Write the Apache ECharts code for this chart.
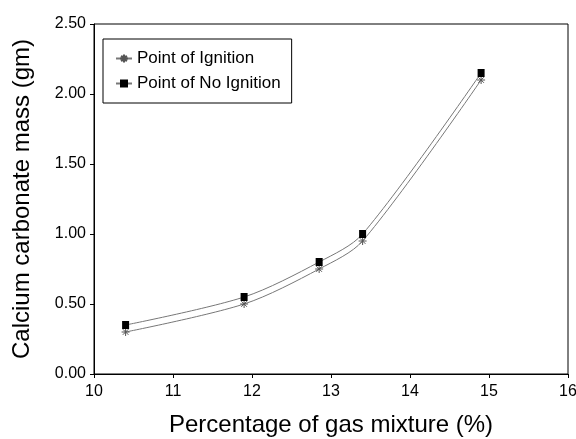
<!DOCTYPE html>
<html><head><meta charset="utf-8">
<script src="https://cdn.jsdelivr.net/npm/echarts@6/dist/echarts.min.js"></script>
<style>html,body{margin:0;padding:0;background:#fff}#c{width:576px;height:439px}</style>
</head><body><div id="c"></div>
<script>
const xIgnition = [10.4, 11.9, 12.85, 13.4, 14.9];
const yIgnition = [0.30, 0.50, 0.75, 0.95, 2.10];
const xNoIgnition = [10.4, 11.9, 12.85, 13.4, 14.9];
const yNoIgnition = [0.35, 0.55, 0.80, 1.00, 2.15];
const seriesNames = ['Point of Ignition', 'Point of No Ignition'];
const xTitle = 'Percentage of gas mixture (%)';
const yTitle = 'Calcium carbonate mass (gm)';

const star = 'path://M5,0L5,10M0,5L10,5M1.5,1.5L8.5,8.5M8.5,1.5L1.5,8.5';
const font = 'Liberation Sans, Arial, sans-serif';
const chart = echarts.init(document.getElementById('c'));
chart.setOption({
  animation: false,
  grid: {left: 94, right: 8, top: 24, bottom: 65, show: true, containLabel: false,
         outerBoundsMode: 'none',
         borderColor: '#000', borderWidth: 1, backgroundColor: 'transparent'},
  legend: {
    left: 103, top: 39, orient: 'vertical',
    borderColor: '#000', borderWidth: 1, borderRadius: 0,
    padding: [11, 11, 11, 12], itemGap: 8, itemWidth: 16, itemHeight: 10,
    textStyle: {fontFamily: font, fontSize: 17, color: '#000'},
    data: seriesNames
  },
  xAxis: {
    type: 'value', min: 10, max: 16, interval: 1,
    name: xTitle, nameLocation: 'middle', nameGap: 39,
    nameTextStyle: {fontFamily: font, fontSize: 24, color: '#000'},
    axisLine: {lineStyle: {color: '#000', width: 1}},
    axisTick: {show: true, length: 4, lineStyle: {color: '#000'}},
    axisLabel: {fontFamily: font, fontSize: 16, color: '#000', margin: 10},
    splitLine: {show: false}
  },
  yAxis: {
    type: 'value', min: 0, max: 2.5, interval: 0.5,
    name: yTitle, nameLocation: 'middle', nameGap: 60, nameRotate: 90,
    nameTextStyle: {fontFamily: font, fontSize: 24, color: '#000'},
    axisLine: {show: true, lineStyle: {color: '#000', width: 1}},
    axisTick: {show: true, length: 4, lineStyle: {color: '#000'}},
    axisLabel: {fontFamily: font, fontSize: 16, color: '#000', margin: 8,
      formatter: v => v.toFixed(2)},
    splitLine: {show: false}
  },
  series: [
    {
      name: seriesNames[0], type: 'line', smooth: 0.3,
      data: xIgnition.map((x, i) => [x, yIgnition[i]]),
      symbol: star, symbolSize: 8,
      itemStyle: {color: 'rgba(0,0,0,0)', borderColor: '#555', borderWidth: 1},
      lineStyle: {color: '#777', width: 1}
    },
    {
      name: seriesNames[1], type: 'line', smooth: 0.3,
      data: xNoIgnition.map((x, i) => [x, yNoIgnition[i]]),
      symbol: 'rect', symbolSize: [7, 8],
      itemStyle: {color: '#000', borderColor: '#000', borderWidth: 0},
      lineStyle: {color: '#777', width: 1}
    }
  ]
});
</script></body></html>
